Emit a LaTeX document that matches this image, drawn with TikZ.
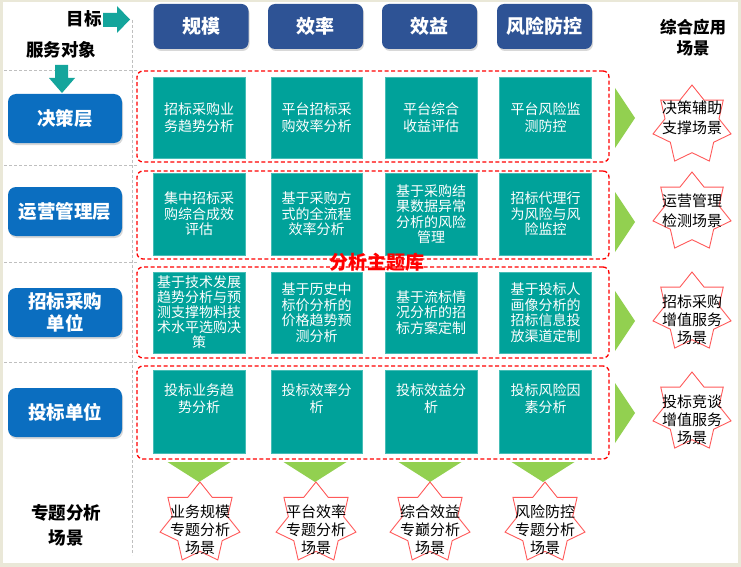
\documentclass[tikz,border=0pt]{standalone}
\usepackage{fontspec}
\setmainfont{Noto Sans CJK SC}
\usetikzlibrary{shapes.geometric,shadows,calc}
\definecolor{hdrblue}{HTML}{2E5395}
\definecolor{lblue}{HTML}{0B6EC0}
\definecolor{tealc}{HTML}{00A29A}
\definecolor{tealb}{HTML}{45BDB6}
\definecolor{greentri}{HTML}{92D050}
\definecolor{starred}{HTML}{FF5A5A}
\definecolor{beige}{HTML}{EAE8D8}
\definecolor{gridgrey}{HTML}{BFBFBF}
\definecolor{arrteal}{HTML}{14A59C}
\begin{document}
\begin{tikzpicture}[x=1pt,y=-1pt,
  header/.style={rounded corners=7pt, fill=hdrblue, text=white, font=\bfseries\fontsize{19}{22}\selectfont,
    minimum width=95pt, minimum height=45pt, inner sep=0pt,
    drop shadow={shadow xshift=1pt,shadow yshift=-2pt,opacity=0.3}},
  leftbox/.style={rounded corners=8pt, fill=lblue, text=white, font=\bfseries\fontsize{18.5}{22}\selectfont,
    minimum width=114pt, minimum height=49pt, inner sep=0pt, align=center,
    drop shadow={shadow xshift=1pt,shadow yshift=-2pt,opacity=0.3}},
  tealbox/.style={fill=tealc, draw=tealb, line width=0.6pt, text=white, align=center,
    font=\fontsize{14}{15.5}\selectfont, minimum width=92pt, inner sep=0pt},
  tealtext/.style={text=white, align=center, font=\fontsize{14}{17}\selectfont, inner sep=0pt},
  redframe/.style={draw=red, fill=white, line width=1.3pt, dash pattern=on 4pt off 2.5pt,
    rounded corners=6pt, minimum width=472pt, inner sep=0pt},
  scstar/.style={star, star points=7, star point ratio=1.445, draw=starred, fill=white,
    line width=0.9pt, inner sep=0pt},
  startext/.style={align=center, font=\fontsize{15}{19}\selectfont, inner sep=0pt},
  lbl/.style={align=center, font=\bfseries\fontsize{17.5}{21}\selectfont, inner sep=0pt},
  gridline/.style={draw=gridgrey, line width=0.9pt, dash pattern=on 3pt off 2pt},
  greentri/.style={fill=greentri},
  blockarrow/.style={fill=arrteal}
]
\useasboundingbox (0,0) rectangle (741,567);
\fill[beige] (0,0) rectangle (741,567);
\fill[white] (3,2) rectangle (738,563);

% grid lines
\coordinate (vtop) at (132,20);
\coordinate (vbot) at (132,555);
\draw[gridline] (vtop) -- (vbot);
\foreach \yy/\nm in {70/ga,165/gb,262/gc,362/gd}{
  \coordinate (\nm l) at (4,\yy);
  \coordinate (\nm r) at (137,\yy);
  \draw[gridline] (\nm l) -- (\nm r);
}

% headers
\node[header] (h1) at (201,26.5) {规模};
\node[header] (h2) at (315.5,26.5) {效率};
\node[header] (h3) at (429.5,26.5) {效益};
\node[header] (h4) at (544.5,26.5) {风险防控};

% top-left labels and arrows
\node[lbl] (mubiao) at (84,18.5) {目标};
\node[lbl] (fuwu) at (61,50) {服务对象};
\fill[blockarrow] (103,13) -- (117,13) -- (117,6) -- (130,19.5) -- (117,33) -- (117,27) -- (103,27) -- cycle;
\fill[blockarrow] (55,65) -- (68,65) -- (68,78) -- (75,78) -- (62,93) -- (49,78) -- (55,78) -- cycle;
\node[lbl, font=\bfseries\fontsize{16.5}{21}\selectfont] (zonghe) at (693,37.5) {综合应用\\场景};
\node[lbl, font=\bfseries\fontsize{17.5}{25}\selectfont] (zhuanti) at (66,525.5) {专题分析\\场景};

% left boxes
\node[leftbox] (l1) at (65,118.5) {决策层};
\node[leftbox] (l2) at (65,211.5) {运营管理层};
\node[leftbox] (l3) at (65,312.5) {招标采购\\单位};
\node[leftbox] (l4) at (65,412.5) {投标单位};

% red frames
\node[redframe, minimum height=91pt] (f1) at (373,116.5) {};
\node[redframe, minimum height=88pt] (f2) at (373,215) {};
\node[redframe, minimum height=91pt] (f3) at (373,312.5) {};
\node[redframe, minimum height=93pt] (f4) at (373,412.5) {};

% row 1
\node[tealbox, minimum height=81pt, font=\fontsize{14}{17.5}\selectfont] (b11) at (199,117.5) {招标采购业\\务趋势分析};
\node[tealbox, minimum height=81pt, minimum width=91pt, font=\fontsize{14}{17.5}\selectfont] (b12) at (316.5,117.5) {平台招标采\\购效率分析};
\node[tealbox, minimum height=81pt, font=\fontsize{14}{17.5}\selectfont] (b13) at (431,117.5) {平台综合\\收益评估};
\node[tealbox, minimum height=81pt, font=\fontsize{14}{17.5}\selectfont] (b14) at (545.5,117.5) {平台风险监\\测防控};
% row 2
\node[tealbox, minimum height=82pt] (b21) at (199,214) {集中招标采\\购综合成效\\评估};
\node[tealbox, minimum height=82pt, minimum width=91pt] (b22) at (316.5,214) {基于采购方\\式的全流程\\效率分析};
\node[tealbox, minimum height=82pt] (b23) at (431,214) {基于采购结\\果数据异常\\分析的风险\\管理};
\node[tealbox, minimum height=82pt] (b24) at (545.5,214) {招标代理行\\为风险与风\\险监控};
% row 3
\node[tealbox, minimum height=81pt, font=\fontsize{14}{15}\selectfont] (b31) at (199,312.5) {基于技术发展\\趋势分析与预\\测支撑物料技\\术水平选购决\\策};
\node[tealbox, minimum height=81pt, minimum width=91pt] (b32) at (316.5,312.5) {基于历史中\\标价分析的\\价格趋势预\\测分析};
\node[tealbox, minimum height=81pt] (b33) at (431,312.5) {基于流标情\\况分析的招\\标方案定制};
\node[tealbox, minimum height=81pt] (b34) at (545.5,312.5) {基于投标人\\画像分析的\\招标信息投\\放渠道定制};
% row 4
\node[tealbox, minimum height=83pt] (b41) at (199,411.5) {};
\node[tealbox, minimum height=83pt, minimum width=91pt] (b42) at (316.5,411.5) {};
\node[tealbox, minimum height=83pt] (b43) at (431,411.5) {};
\node[tealbox, minimum height=83pt] (b44) at (545.5,411.5) {};
\node[tealtext] (t41) at ($(b41.center)+(0,-13)$) {投标业务趋\\势分析};
\node[tealtext] (t42) at ($(b42.center)+(0,-13)$) {投标效率分\\析};
\node[tealtext] (t43) at ($(b43.center)+(0,-13)$) {投标效益分\\析};
\node[tealtext] (t44) at ($(b44.center)+(0,-13)$) {投标风险因\\素分析};

\node[text=red, font=\bfseries\fontsize{19}{22}\selectfont, inner sep=0pt] (ku) at (377,262) {分析主题库};

% right triangles
\foreach \yy/\nm in {118/ra,222/rb,321/rc,413/rd}{
  \fill[greentri] (615,\yy-30) -- (635,\yy) -- (615,\yy+30) -- cycle;
}
% bottom triangles
\foreach \xx/\nm in {199/ba,315/bb,430/bc,543/bd}{
  \fill[greentri] (\xx-31.5,462) -- (\xx+31.5,462) -- (\xx,482) -- cycle;
}

% right stars
\node[scstar, minimum size=80pt] (s1) at (692,125) {};
\node[scstar, minimum size=80pt] (s2) at (692,212) {};
\node[scstar, minimum size=80pt] (s3) at (692,312) {};
\node[scstar, minimum size=80pt] (s4) at (692,412) {};
\node[startext, font=\fontsize{15}{20}\selectfont] (st1) at (692,118) {决策辅助\\支撑场景};
\node[startext, font=\fontsize{15}{20}\selectfont] (st2) at (692,211) {运营管理\\检测场景};
\node[startext, font=\fontsize{15}{18}\selectfont] (st3) at (692,320) {招标采购\\增值服务\\场景};
\node[startext, font=\fontsize{15}{18}\selectfont] (st4) at (692,420) {投标竞谈\\增值服务\\场景};

% bottom stars
\node[scstar, minimum size=82pt] (q1) at (200,523) {};
\node[scstar, minimum size=82pt] (q2) at (316,523) {};
\node[scstar, minimum size=82pt] (q3) at (430,523) {};
\node[scstar, minimum size=82pt] (q4) at (545,523) {};
\node[startext, font=\fontsize{15}{18}\selectfont] (qt1) at (200,530) {业务规模\\专题分析\\场景};
\node[startext, font=\fontsize{15}{18}\selectfont] (qt2) at (316,530) {平台效率\\专题分析\\场景};
\node[startext, font=\fontsize{15}{18}\selectfont] (qt3) at (430,530) {综合效益\\专巅分析\\场景};
\node[startext, font=\fontsize{15}{18}\selectfont] (qt4) at (545,530) {风险防控\\专题分析\\场景};
\end{tikzpicture}
\end{document}
